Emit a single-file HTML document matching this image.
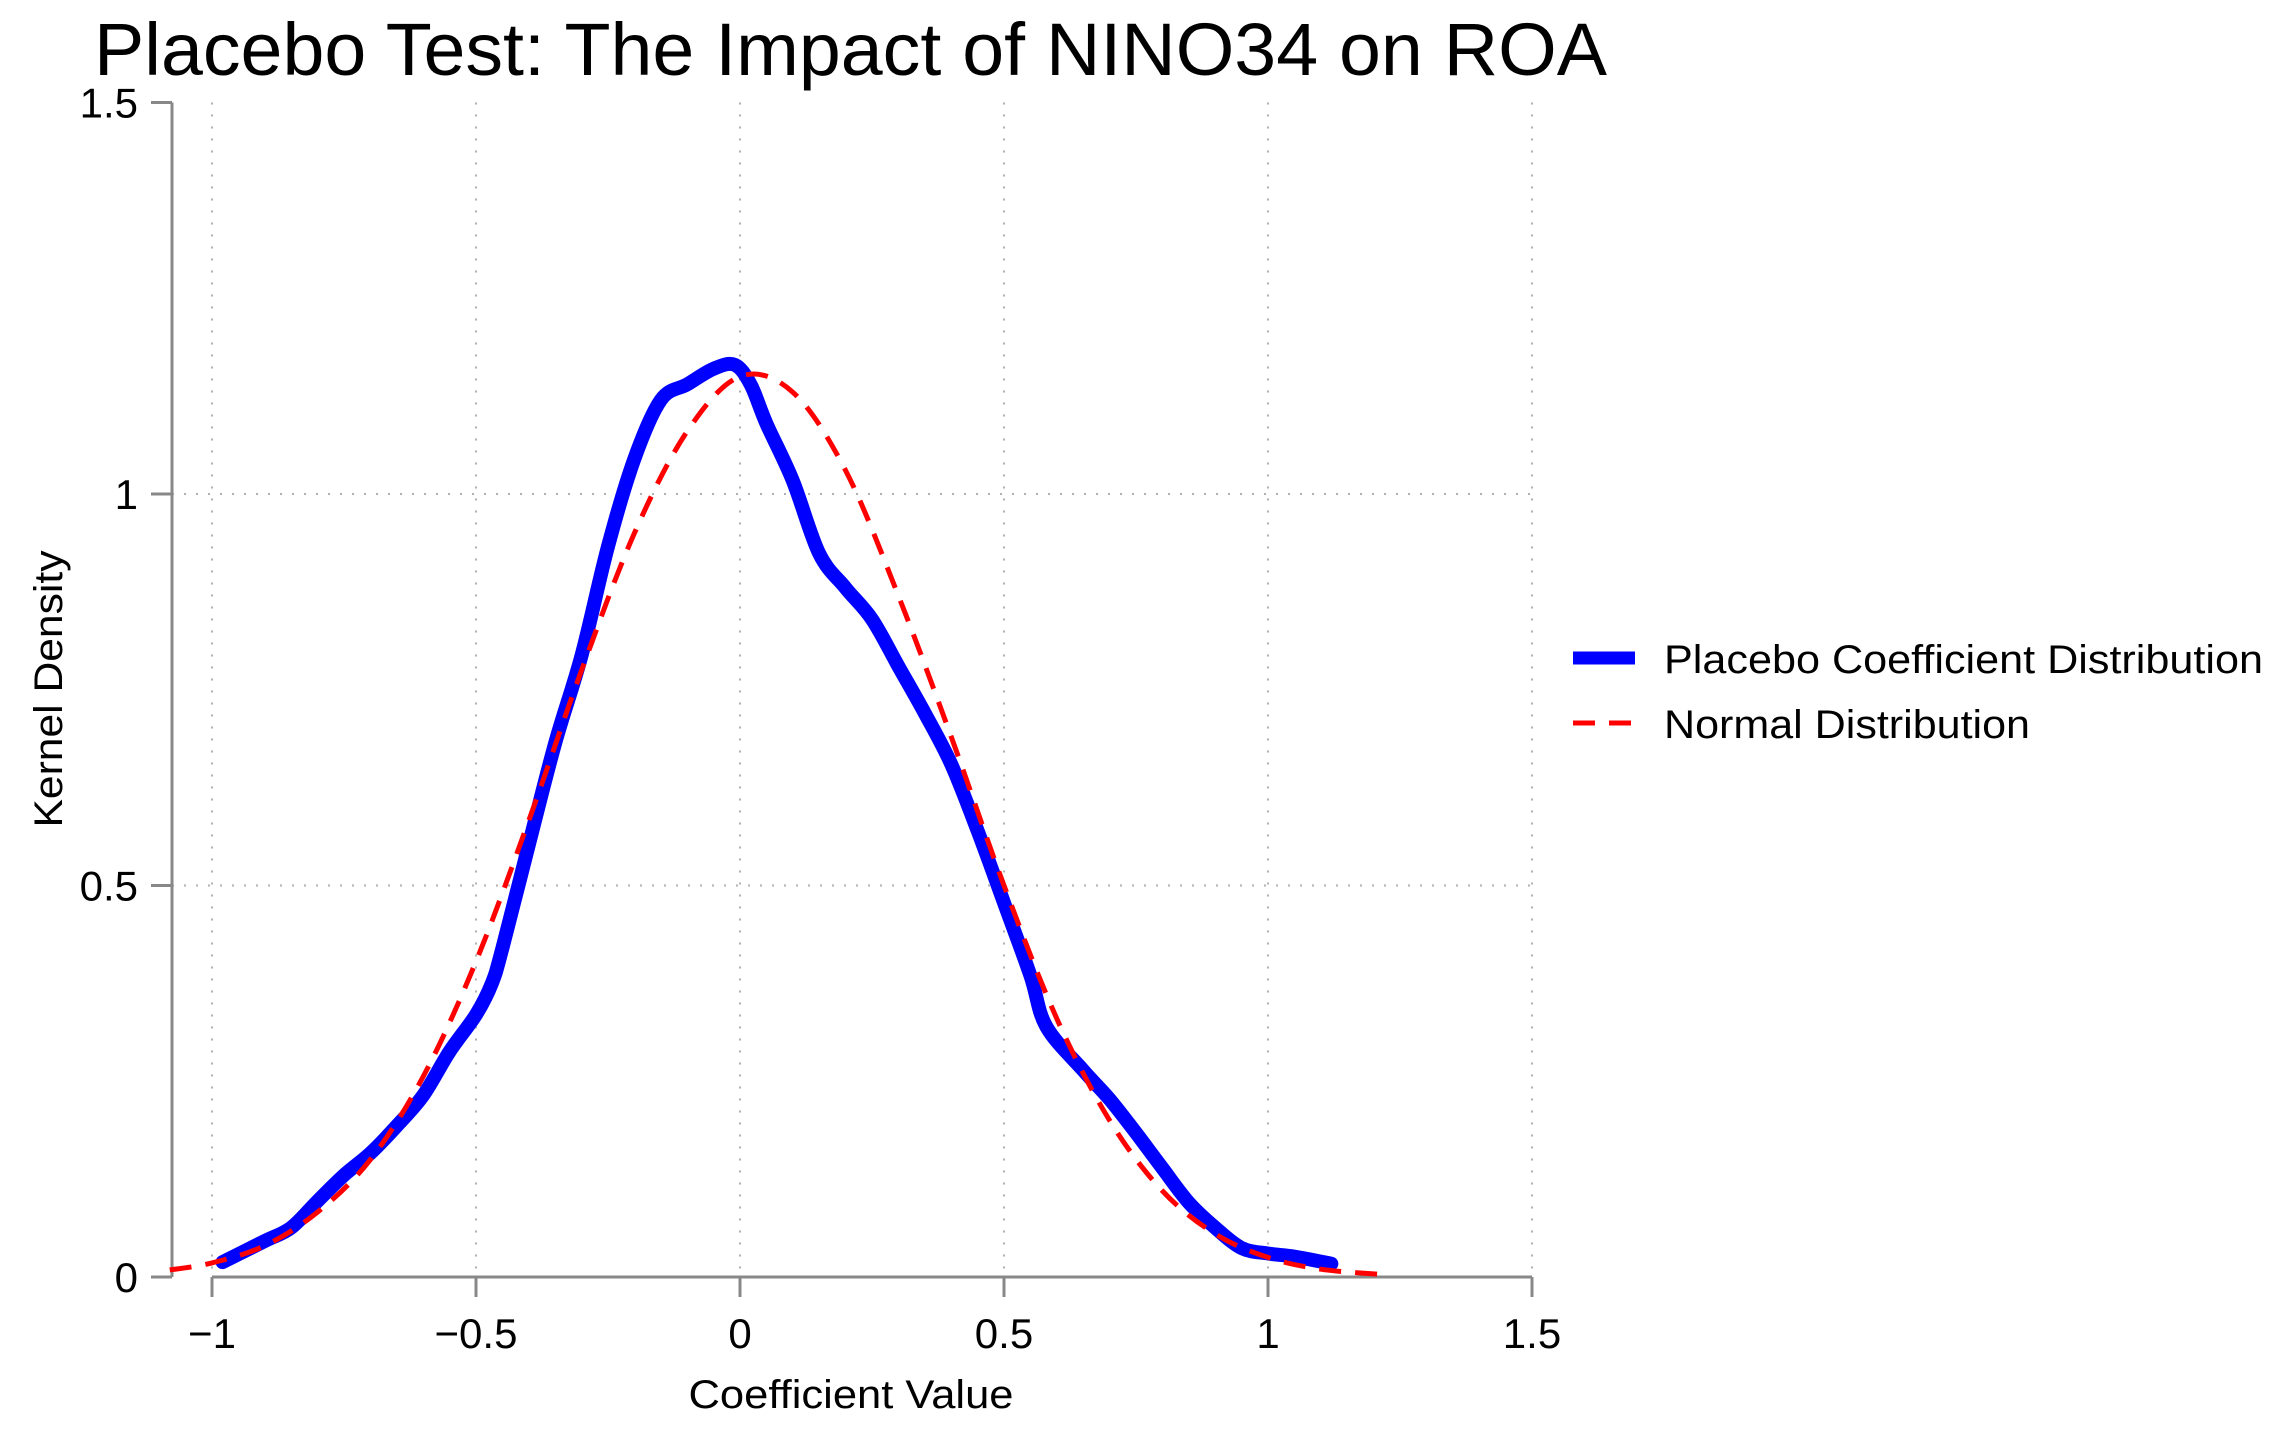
<!DOCTYPE html>
<html><head><meta charset="utf-8"><style>
html,body{margin:0;padding:0;background:#fff;}
svg{display:block;font-family:"Liberation Sans",Arial,sans-serif;}
</style></head><body>
<svg id="chart" width="2284" height="1434" viewBox="0 0 2284 1434" xmlns="http://www.w3.org/2000/svg">
<rect width="2284" height="1434" fill="#fff"/>
<text x="94" y="75" font-size="74" textLength="1513" lengthAdjust="spacingAndGlyphs">Placebo Test: The Impact of NINO34 on ROA</text>
<g id="grid"></g>
<g id="axes"></g>
<g id="series"></g>
<text x="851" y="1408" font-size="40" text-anchor="middle" textLength="325" lengthAdjust="spacingAndGlyphs">Coefficient Value</text>
<text transform="translate(62,689) rotate(-90)" font-size="40" text-anchor="middle" textLength="277" lengthAdjust="spacingAndGlyphs">Kernel Density</text>
<g>
<line x1="1573" y1="658" x2="1635" y2="658" stroke="#0000ff" stroke-width="13"/>
<text x="1664" y="673" font-size="40" textLength="599" lengthAdjust="spacingAndGlyphs">Placebo Coefficient Distribution</text>
<line x1="1573" y1="723" x2="1635" y2="723" stroke="#ff0000" stroke-width="5" stroke-dasharray="22,14"/>
<text x="1664" y="738" font-size="40" textLength="366" lengthAdjust="spacingAndGlyphs">Normal Distribution</text>
</g>
</svg>
<script>
const xTicks = [-1, -0.5, 0, 0.5, 1, 1.5];
const xTickLabels = ["\u22121", "\u22120.5", "0", "0.5", "1", "1.5"];
const yTicks = [0, 0.5, 1, 1.5];
const yTickLabels = ["0", "0.5", "1", "1.5"];
const placeboX = [-0.98,-0.9,-0.85,-0.8,-0.75,-0.7,-0.65,-0.6,-0.55,-0.5,-0.47,-0.45,-0.4,-0.35,-0.3,-0.25,-0.2,-0.15,-0.1,-0.05,-0.01,0.02,0.05,0.1,0.15,0.2,0.25,0.3,0.35,0.4,0.45,0.5,0.55,0.58,0.65,0.7,0.75,0.8,0.85,0.9,0.95,1.0,1.05,1.12];
const placeboY = [0.019,0.046,0.063,0.097,0.13,0.158,0.193,0.232,0.288,0.335,0.375,0.42,0.552,0.682,0.794,0.933,1.045,1.12,1.14,1.16,1.165,1.14,1.09,1.017,0.924,0.88,0.84,0.78,0.72,0.655,0.57,0.478,0.385,0.32,0.264,0.227,0.184,0.139,0.095,0.063,0.037,0.03,0.026,0.017];
const normalX = [-1.08,-1.0,-0.9,-0.8,-0.7,-0.6,-0.5,-0.4,-0.3,-0.2,-0.1,0,0.1,0.2,0.3,0.4,0.5,0.6,0.7,0.8,0.9,1.0,1.1,1.22];
const normalY = [0.009,0.018,0.040,0.083,0.150,0.256,0.403,0.583,0.775,0.95,1.08,1.15,1.13,1.03,0.87,0.69,0.50,0.33,0.20,0.11,0.055,0.025,0.01,0.003];

const NS = "http://www.w3.org/2000/svg";
const X0 = 212, XPX = 528, Y0 = 1277, YPX = 783, YAXIS_X = 172;
function sx(v){ return X0 + (v + 1) * XPX; }
function sy(v){ return Y0 - v * YPX; }
function mk(tag, attrs, parent){ const e = document.createElementNS(NS, tag); for (const k in attrs) e.setAttribute(k, attrs[k]); parent.appendChild(e); return e; }

const grid = document.getElementById('grid');
const axes = document.getElementById('axes');
const series = document.getElementById('series');

xTicks.forEach((t, i) => {
  const g = mk('line', {x1: sx(t), y1: sy(1.5), x2: sx(t), y2: sy(0), stroke: '#b0b0b0', 'stroke-width': 2, 'stroke-dasharray': '2,10'}, grid);
  
  
  const tk = mk('line', {x1: sx(t), y1: Y0, x2: sx(t), y2: Y0 + 20, stroke: '#888', 'stroke-width': 3}, axes);
  
  
  const lb = mk('text', {x: sx(t), y: 1348, 'font-size': 42, 'text-anchor': 'middle'}, axes);
  lb.textContent = xTickLabels[i];
  
  
});
yTicks.forEach((t, i) => {
  if (t > 0 && t < 1.5) {
    const g = mk('line', {x1: YAXIS_X, y1: sy(t), x2: sx(1.5), y2: sy(t), stroke: '#b0b0b0', 'stroke-width': 2, 'stroke-dasharray': '2,10'}, grid);
    
    
  }
  const tk = mk('line', {x1: YAXIS_X - 21, y1: sy(t), x2: YAXIS_X, y2: sy(t), stroke: '#888', 'stroke-width': 3}, axes);
  
  
  const lb = mk('text', {x: 138, y: sy(t) + 15, 'font-size': 42, 'text-anchor': 'end'}, axes);
  lb.textContent = yTickLabels[i];
  
  
});
const ya = mk('line', {x1: YAXIS_X, y1: sy(1.5), x2: YAXIS_X, y2: Y0, stroke: '#888', 'stroke-width': 3}, axes);


const xa = mk('line', {x1: sx(-1), y1: Y0, x2: sx(1.5), y2: Y0, stroke: '#888', 'stroke-width': 3}, axes);



function smoothPath(xs, ys){
  const p = xs.map((x, i) => [sx(x), sy(ys[i])]);
  let d = 'M' + p[0][0] + ',' + p[0][1];
  for (let i = 0; i < p.length - 1; i++) {
    const p0 = p[Math.max(0, i - 1)], p1 = p[i], p2 = p[i + 1], p3 = p[Math.min(p.length - 1, i + 2)];
    const c1 = [p1[0] + (p2[0] - p0[0]) / 6, p1[1] + (p2[1] - p0[1]) / 6];
    const c2 = [p2[0] - (p3[0] - p1[0]) / 6, p2[1] - (p3[1] - p1[1]) / 6];
    d += ' C' + c1[0] + ',' + c1[1] + ' ' + c2[0] + ',' + c2[1] + ' ' + p2[0] + ',' + p2[1];
  }
  return d;
}
const blue = mk('path', {d: smoothPath(placeboX, placeboY), fill: 'none', stroke: '#0000ff', 'stroke-width': 14, 'stroke-linejoin': 'round', 'stroke-linecap': 'round'}, series);


const red = mk('path', {d: smoothPath(normalX, normalY), fill: 'none', stroke: '#ff0000', 'stroke-width': 5, 'stroke-dasharray': '22,14'}, series);


</script>
</body></html>
